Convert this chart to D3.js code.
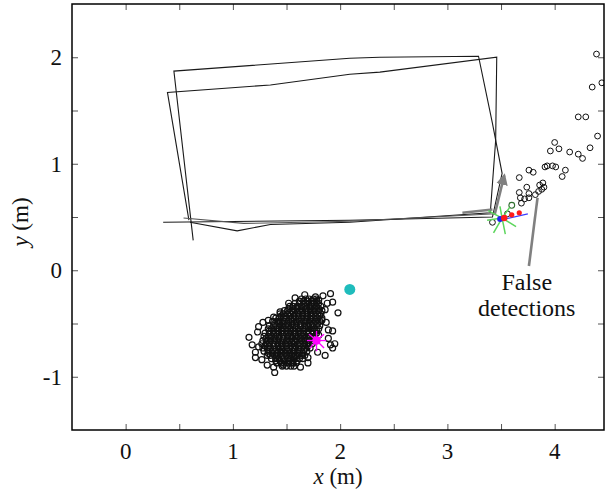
<!DOCTYPE html>
<html>
<head>
<meta charset="utf-8">
<script src="https://cdn.jsdelivr.net/npm/d3@7"></script>
<style>
  body { margin: 0; background: #fff; }
  svg { display: block; }
  .tickLabel, .axisTitle, .note { font-family: "Liberation Serif", "Times New Roman", serif; fill: #111; }
  .tickLabel { font-size: 23px; }
  .axisTitle { font-size: 23px; }
  .note { font-size: 24px; }
  .minor line { stroke: #555; stroke-width: 1; }
</style>
</head>
<body>
<div id="chart"></div>
<script>
// tick values
var xTicks = [0, 1, 2, 3, 4];
var yTicks = [-1, 0, 1, 2];
var xMinor = [0, 0.5, 1, 1.5, 2, 2.5, 3, 3.5, 4];
var yMinor = [-1, -0.5, 0, 0.5, 1, 1.5, 2];

// robot trajectory (m)
var path1 = [[0.63,0.28],[0.45,1.87],[2.09,1.99],[2.37,2.00],[3.29,2.01],[3.42,1.38],[3.51,0.91],[3.42,0.50],[2.09,0.47],[0.35,0.45]];
var path2 = [[0.59,0.47],[0.39,1.67],[1.35,1.74],[2.09,1.84],[2.37,1.86],[3.46,2.00],[3.45,1.22],[3.40,0.54],[2.09,0.45],[1.35,0.43],[1.04,0.37],[0.60,0.45]];
var path3 = [[0.54,0.49],[1.10,0.44],[2.09,0.46],[3.45,0.53]];

// robot frame arrows
var arrowX = [[3.14,0.54],[3.42,0.57]];
var arrowY = [[3.44,0.52],[3.53,0.89]];

// false detections
var falseDet = [[4.39,2.03],[4.44,1.76],[4.35,1.72],[4.22,1.44],[4.29,1.44],[4.40,1.26],[4.33,1.15],
  [4.00,1.20],[3.96,1.12],[4.04,1.14],[4.14,1.11],[4.22,1.09],[4.26,1.05],[3.93,0.98],[3.98,0.98],
  [4.01,0.97],[3.91,0.97],[4.10,0.94],[4.07,0.88],[3.76,0.94],[3.80,0.92],[3.67,0.87],[3.89,0.82],
  [3.86,0.80],[3.90,0.78],[3.88,0.76],[3.85,0.74],[3.74,0.78],[3.67,0.73],[3.76,0.72],[3.68,0.68],
  [3.72,0.67],[3.76,0.68],[3.82,0.71],[3.69,0.63],[3.56,0.53],[3.42,0.45]];
var greenDot = [[3.60,0.61]];

// estimates near the robot
var starCenter = [3.51, 0.49];
var starRays = [[3.43,0.35],[3.54,0.34],[3.64,0.41],[3.37,0.47],[3.38,0.56],[3.49,0.60],[3.58,0.59]];
var blueLine = [[3.49,0.47],[3.75,0.53]];
var redDots = [[3.53,0.49],[3.60,0.52],[3.67,0.54]];

// detection cluster, rows of x values at each y
var clusterY = [-0.27,-0.31,-0.34,-0.38,-0.41,-0.45,-0.48,-0.52,-0.55,-0.59,-0.62,-0.66,-0.69,-0.73,-0.76,-0.80,-0.83,-0.87,-0.90];
var clusterX = [
  [1.64,1.68,1.71,1.75,1.78],
  [1.58,1.62,1.66,1.69,1.73,1.76,1.80],
  [1.53,1.56,1.60,1.64,1.67,1.71,1.74,1.78,1.82],
  [1.48,1.51,1.55,1.58,1.62,1.65,1.69,1.73,1.76,1.80,1.83],
  [1.44,1.47,1.51,1.54,1.58,1.61,1.65,1.68,1.72,1.75,1.79,1.82],
  [1.40,1.43,1.47,1.50,1.54,1.57,1.61,1.64,1.68,1.72,1.75,1.79,1.83],
  [1.37,1.41,1.44,1.48,1.52,1.55,1.59,1.62,1.66,1.69,1.73,1.77,1.81],
  [1.34,1.38,1.41,1.45,1.49,1.52,1.56,1.59,1.63,1.67,1.70,1.74,1.78,1.81],
  [1.33,1.36,1.40,1.43,1.47,1.51,1.54,1.58,1.61,1.65,1.68,1.72,1.76,1.80],
  [1.30,1.34,1.38,1.41,1.45,1.48,1.52,1.56,1.59,1.63,1.66,1.70,1.74,1.78],
  [1.29,1.33,1.36,1.40,1.43,1.47,1.51,1.54,1.58,1.61,1.65,1.69,1.72,1.76],
  [1.28,1.32,1.35,1.39,1.42,1.46,1.50,1.53,1.57,1.60,1.64,1.67,1.71,1.75],
  [1.27,1.31,1.34,1.38,1.42,1.45,1.49,1.52,1.56,1.60,1.63,1.67,1.70,1.74],
  [1.28,1.32,1.35,1.39,1.43,1.46,1.50,1.53,1.57,1.61,1.64,1.68,1.72],
  [1.29,1.33,1.37,1.40,1.44,1.47,1.51,1.55,1.58,1.62,1.66,1.69],
  [1.32,1.35,1.39,1.42,1.46,1.50,1.53,1.57,1.60,1.64,1.67],
  [1.36,1.40,1.43,1.47,1.51,1.54,1.58,1.62,1.65],
  [1.41,1.45,1.48,1.52,1.56,1.59],
  [1.46,1.50,1.54,1.57]
];
// second, offset layer filling the core
var coreY = [-0.29,-0.36,-0.43,-0.50,-0.57,-0.64,-0.71,-0.78,-0.85];
var coreX = [
  [1.62,1.66,1.70,1.74,1.78],
  [1.52,1.56,1.60,1.64,1.68,1.72,1.76,1.80],
  [1.45,1.49,1.53,1.57,1.61,1.65,1.69,1.73,1.77,1.81],
  [1.39,1.43,1.47,1.51,1.55,1.59,1.63,1.67,1.71,1.75,1.79],
  [1.34,1.38,1.42,1.46,1.50,1.54,1.58,1.62,1.66,1.70,1.74,1.78],
  [1.31,1.35,1.39,1.43,1.47,1.51,1.55,1.59,1.63,1.67,1.71,1.75],
  [1.30,1.34,1.38,1.42,1.46,1.50,1.54,1.58,1.62,1.66,1.70],
  [1.33,1.37,1.41,1.45,1.49,1.53,1.57,1.61,1.65],
  [1.40,1.44,1.48,1.52,1.56,1.60]
];
var clusterOuter = [[1.15,-0.63],[1.21,-0.77],[1.21,-0.82],[1.24,-0.72],[1.32,-0.89],[1.39,-0.96],[1.38,-0.91],
  [1.47,-0.89],[1.55,-0.87],[1.70,-0.87],[1.70,-0.82],[1.79,-0.77],[1.91,-0.70],[1.95,-0.69],[1.93,-0.73],
  [1.89,-0.56],[1.93,-0.57],[1.98,-0.40],[1.91,-0.22],[1.93,-0.30],[1.88,-0.31],[1.67,-0.23],[1.77,-0.25],
  [1.80,-0.28],[1.52,-0.31],[1.44,-0.39],[1.38,-0.44],[1.28,-0.49],[1.23,-0.58],[1.86,-0.37],[1.83,-0.47],
  [1.89,-0.64],[1.86,-0.80],[1.63,-0.91],[1.27,-0.84],[1.18,-0.70],[1.24,-0.53],[1.33,-0.47],[1.58,-0.26],
  [1.84,-0.24],[1.87,-0.49],[1.80,-0.61]];

// true / estimated target
var cyanDot = [2.09, -0.18];
var magCenter = [1.78, -0.66];
var magRays = [[1.87,-0.66],[1.85,-0.60],[1.78,-0.57],[1.71,-0.60],[1.69,-0.66],[1.72,-0.73],[1.78,-0.76],[1.85,-0.73]];

// annotation
var noteLines = ["False", "detections"];
var noteAt = [3.74, -0.19];
var notePointer = [[3.76,0.04],[3.84,0.68]];

var width = 606, height = 490;
var padL = 72, padR = 604, padT = 4, padB = 430;

var x = d3.scaleLinear().domain([-0.5, 4.46]).range([padL, padR]);
var y = d3.scaleLinear().domain([-1.5, 2.5]).range([padB, padT]);

var svg = d3.select("#chart").append("svg")
    .attr("width", width)
    .attr("height", height);

var defs = svg.append("defs");
defs.append("clipPath").attr("id", "plotClip")
  .append("rect")
    .attr("x", padL).attr("y", padT)
    .attr("width", padR - padL).attr("height", padB - padT);

defs.append("marker")
    .attr("id", "grayHead")
    .attr("viewBox", "0 0 10 10")
    .attr("refX", 8).attr("refY", 5)
    .attr("markerWidth", 4.5).attr("markerHeight", 4.5)
    .attr("markerUnits", "strokeWidth")
    .attr("orient", "auto")
  .append("path")
    .attr("d", "M0,0 L10,5 L0,10 Z")
    .attr("fill", "#808080");

// inward ticks on all four sides
svg.append("g").attr("class", "minor")
    .attr("transform", "translate(0," + padB + ")")
    .call(d3.axisBottom(x).tickValues(xMinor).tickSize(-6).tickFormat(""));
svg.append("g").attr("class", "minor")
    .attr("transform", "translate(0," + padT + ")")
    .call(d3.axisTop(x).tickValues(xMinor).tickSize(-6).tickFormat(""));
svg.append("g").attr("class", "minor")
    .attr("transform", "translate(" + padL + ",0)")
    .call(d3.axisLeft(y).tickValues(yMinor).tickSize(-6).tickFormat(""));
svg.append("g").attr("class", "minor")
    .attr("transform", "translate(" + padR + ",0)")
    .call(d3.axisRight(y).tickValues(yMinor).tickSize(-6).tickFormat(""));
svg.selectAll(".minor .domain").remove();
svg.selectAll(".minor text").remove();

var plot = svg.append("g").attr("clip-path", "url(#plotClip)");

var line = d3.line()
    .x(function(d) { return x(d[0]); })
    .y(function(d) { return y(d[1]); });

// trajectory
plot.selectAll(".traj")
    .data([path1, path2, path3])
    .enter().append("path")
    .attr("class", "traj")
    .attr("d", line)
    .attr("fill", "none")
    .attr("stroke", function(d, i) { return i == 2 ? "#555" : "#1a1a1a"; })
    .attr("stroke-width", 1.1);

// gray frame arrows
plot.append("path")
    .attr("d", line(arrowX))
    .attr("stroke", "#808080").attr("stroke-width", 2.6).attr("fill", "none");
plot.append("path")
    .attr("d", line(arrowY))
    .attr("stroke", "#808080").attr("stroke-width", 2.6).attr("fill", "none")
    .attr("marker-end", "url(#grayHead)");

// cluster of detections
var cluster = [];
clusterY.forEach(function(yy, i) {
  clusterX[i].forEach(function(xx) { cluster.push([xx, yy]); });
});
coreY.forEach(function(yy, i) {
  coreX[i].forEach(function(xx) { cluster.push([xx, yy]); });
});
cluster = cluster.concat(clusterOuter);

plot.selectAll(".det")
    .data(cluster)
    .enter().append("circle")
    .attr("class", "det")
    .attr("cx", function(d) { return x(d[0]); })
    .attr("cy", function(d) { return y(d[1]); })
    .attr("r", 3)
    .attr("fill", "none")
    .attr("stroke", "#111")
    .attr("stroke-width", 1.2);

// false detections
plot.selectAll(".fdet")
    .data(falseDet)
    .enter().append("circle")
    .attr("class", "fdet")
    .attr("cx", function(d) { return x(d[0]); })
    .attr("cy", function(d) { return y(d[1]); })
    .attr("r", 2.9)
    .attr("fill", "none")
    .attr("stroke", "#111")
    .attr("stroke-width", 1);

plot.selectAll(".gdot")
    .data(greenDot)
    .enter().append("circle")
    .attr("class", "gdot")
    .attr("cx", function(d) { return x(d[0]); })
    .attr("cy", function(d) { return y(d[1]); })
    .attr("r", 2.9)
    .attr("fill", "none")
    .attr("stroke", "#2f6f2f")
    .attr("stroke-width", 1.1);

// green star
plot.selectAll(".gray")
    .data(starRays)
    .enter().append("line")
    .attr("class", "gray")
    .attr("x1", x(starCenter[0])).attr("y1", y(starCenter[1]))
    .attr("x2", function(d) { return x(d[0]); })
    .attr("y2", function(d) { return y(d[1]); })
    .attr("stroke", "#5cd65c")
    .attr("stroke-width", 1.5);

plot.append("path")
    .attr("d", line(blueLine))
    .attr("stroke", "#3b3bff").attr("stroke-width", 1.3).attr("fill", "none");

plot.append("circle")
    .attr("cx", x(starCenter[0]) - 2).attr("cy", y(starCenter[1]) + 1)
    .attr("r", 3).attr("fill", "#2222ee");

plot.selectAll(".red")
    .data(redDots)
    .enter().append("circle")
    .attr("class", "red")
    .attr("cx", function(d) { return x(d[0]); })
    .attr("cy", function(d) { return y(d[1]); })
    .attr("r", function(d, i) { return i == 0 ? 3.2 : 2.6; })
    .attr("fill", "#ff1a1a");

// magenta estimate
plot.selectAll(".mray")
    .data(magRays)
    .enter().append("line")
    .attr("class", "mray")
    .attr("x1", x(magCenter[0])).attr("y1", y(magCenter[1]))
    .attr("x2", function(d) { return x(d[0]); })
    .attr("y2", function(d) { return y(d[1]); })
    .attr("stroke", "#ff00ff")
    .attr("stroke-width", 1.3);
plot.append("circle")
    .attr("cx", x(magCenter[0])).attr("cy", y(magCenter[1]))
    .attr("r", 4.2).attr("fill", "#ff00ff");

// cyan target
plot.append("circle")
    .attr("cx", x(cyanDot[0])).attr("cy", y(cyanDot[1]))
    .attr("r", 5.5).attr("fill", "#1fbcbc");

// annotation
svg.append("path")
    .attr("d", line(notePointer))
    .attr("stroke", "#808080").attr("stroke-width", 2.6).attr("fill", "none");

svg.selectAll(".note")
    .data(noteLines)
    .enter().append("text")
    .attr("class", "note")
    .attr("x", x(noteAt[0]))
    .attr("y", function(d, i) { return y(noteAt[1]) + i * 26; })
    .attr("text-anchor", "middle")
    .text(function(d) { return d; });

// frame
svg.append("rect")
    .attr("x", padL).attr("y", padT)
    .attr("width", padR - padL).attr("height", padB - padT)
    .attr("fill", "none")
    .attr("stroke", "#000")
    .attr("stroke-width", 1.5);

// tick labels
svg.selectAll(".xlab")
    .data(xTicks)
    .enter().append("text")
    .attr("class", "tickLabel xlab")
    .attr("x", function(d) { return x(d); })
    .attr("y", 459)
    .attr("text-anchor", "middle")
    .text(function(d) { return d; });

svg.selectAll(".ylab")
    .data(yTicks)
    .enter().append("text")
    .attr("class", "tickLabel ylab")
    .attr("x", 62)
    .attr("y", function(d) { return y(d) + 8; })
    .attr("text-anchor", "end")
    .text(function(d) { return d; });

// axis titles
var xt = svg.append("text")
    .attr("class", "axisTitle")
    .attr("x", (padL + padR) / 2)
    .attr("y", 484)
    .attr("text-anchor", "middle");
xt.append("tspan").attr("font-style", "italic").text("x");
xt.append("tspan").text(" (m)");

var yt = svg.append("text")
    .attr("class", "axisTitle")
    .attr("transform", "translate(28," + 222 + ") rotate(-90)")
    .attr("text-anchor", "middle");
yt.append("tspan").attr("font-style", "italic").text("y");
yt.append("tspan").text(" (m)");
</script>
</body>
</html>
